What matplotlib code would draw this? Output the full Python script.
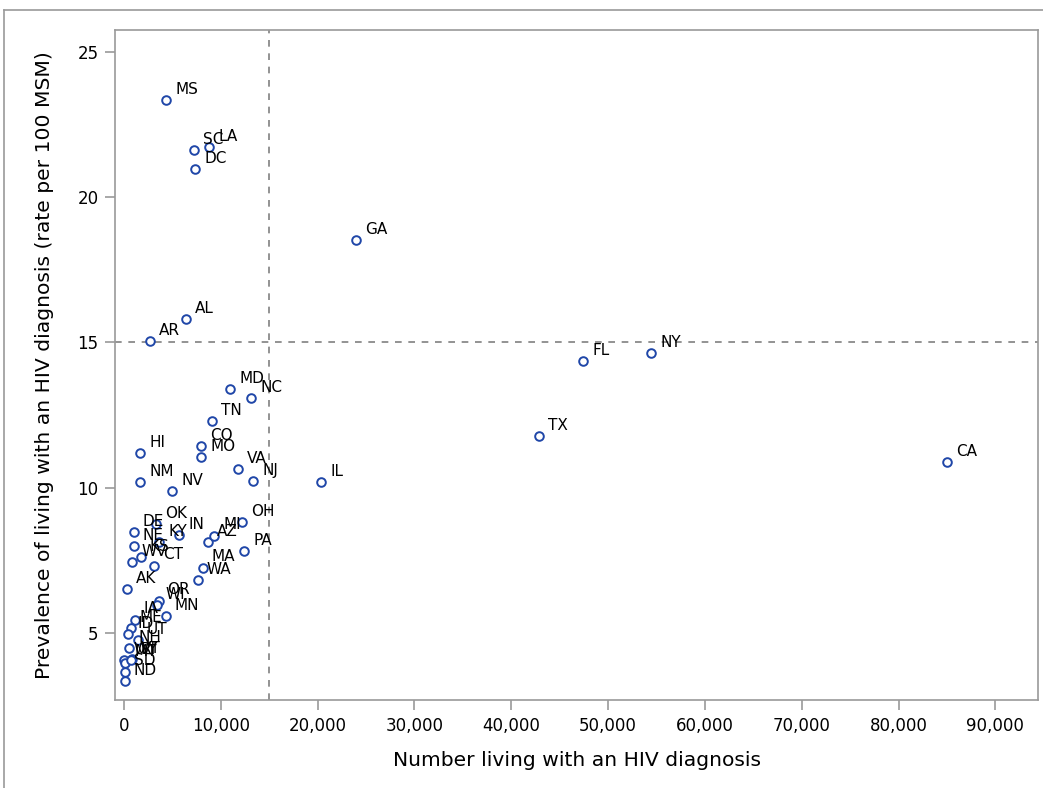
import matplotlib
matplotlib.use("Agg")
import matplotlib.pyplot as plt
from matplotlib.lines import Line2D
from matplotlib.ticker import FuncFormatter

# ---------------------------------------------------------------------------
# Data: state, number living with HIV diagnosis, prevalence per 100 MSM
# ---------------------------------------------------------------------------
states = [
    "MS", "SC", "LA", "DC", "GA", "AL", "AR", "FL", "NY", "MD", "NC", "TN",
    "CO", "MO", "HI", "VA", "NJ", "IL", "NM", "NV", "TX", "CA",
    "OK", "DE", "IN", "NE", "KY", "KS", "WV", "CT", "AK", "MA", "WA", "AZ",
    "MI", "OH", "PA", "OR", "WI", "MN", "IA", "ME", "ID", "UT", "NH", "VT",
    "WY", "MT", "RI", "SD", "ND",
]
n_living = [
    4340, 7230, 8780, 7340, 23970, 6400, 2690, 47420, 54440, 10950, 13120, 9090,
    7950, 7950, 1650, 11780, 13330, 20350, 1650, 4960, 42870, 85020,
    3310, 980, 5680, 980, 3620, 1730, 860, 3130, 280, 8110, 7610, 8650,
    9330, 12220, 12400, 3560, 3360, 4320, 1090, 690, 440, 1420, 520, 830,
    20, 130, 720, 130, 50,
]
prevalence = [
    23.35, 21.63, 21.73, 20.97, 18.53, 15.81, 15.05, 14.36, 14.64, 13.40, 13.09, 12.30,
    11.44, 11.06, 11.20, 10.65, 10.23, 10.20, 10.20, 9.89, 11.78, 10.89,
    8.75, 8.46, 8.36, 8.00, 8.12, 7.61, 7.43, 7.32, 6.50, 7.25, 6.82, 8.13,
    8.35, 8.82, 7.82, 6.11, 5.96, 5.57, 5.46, 5.16, 4.96, 4.76, 4.47, 4.10,
    4.07, 3.98, 4.05, 3.67, 3.35,
]

x_ticks = [0, 10000, 20000, 30000, 40000, 50000, 60000, 70000, 80000, 90000]
y_ticks = [5, 10, 15, 20, 25]
ref_x = 15000
ref_y = 15

# ---------------------------------------------------------------------------
# Figure
# ---------------------------------------------------------------------------
fig = plt.figure(figsize=(10.43, 7.88), dpi=100)
ax = fig.add_axes([0.1103, 0.1117, 0.8849, 0.8502])

# outer (partially cropped) frame
frame_col = "#9a9a9a"
fig.add_artist(Line2D([4 / 1043, 4 / 1043], [0, 1 - 10 / 788],
                      transform=fig.transFigure, color=frame_col, lw=1.2))
fig.add_artist(Line2D([4 / 1043, 1], [1 - 10 / 788, 1 - 10 / 788],
                      transform=fig.transFigure, color=frame_col, lw=1.2))

ax.axvline(ref_x, color="#808080", ls=(0, (4, 4)), lw=1.2, zorder=1)
ax.axhline(ref_y, color="#808080", ls=(0, (4, 4)), lw=1.2, zorder=1)

ax.plot(n_living, prevalence, ls="none", marker="o", markersize=6.2,
        markerfacecolor="white", markeredgecolor="#1f46a8", markeredgewidth=1.4,
        zorder=3)

# labels sit upper-right of each point (they overlap in the dense cluster,
# as in the original)
for st, xv, yv in zip(states, n_living, prevalence):
    ax.annotate(st, (xv, yv), xytext=(6.5, 4.5), textcoords="offset points",
                ha="left", va="baseline", fontsize=11, color="black", zorder=4)

ax.set_xlim(-930, 94400)
ax.set_ylim(2.69, 25.76)
ax.set_xticks(x_ticks)
ax.set_yticks(y_ticks)
ax.xaxis.set_major_formatter(FuncFormatter(lambda v, _: f"{int(v):,}"))

for sp in ax.spines.values():
    sp.set_color("#9a9a9a")
    sp.set_linewidth(1.2)

ax.tick_params(axis="both", direction="out", length=7, width=1.2,
               color="#9a9a9a", labelsize=12, pad=5)

ax.set_xlabel("Number living with an HIV diagnosis", fontsize=14.6, labelpad=12)
ax.set_ylabel("Prevalence of living with an HIV diagnosis (rate per 100 MSM)",
              fontsize=14.6, labelpad=17)

fig.savefig("out.png", dpi=100)
